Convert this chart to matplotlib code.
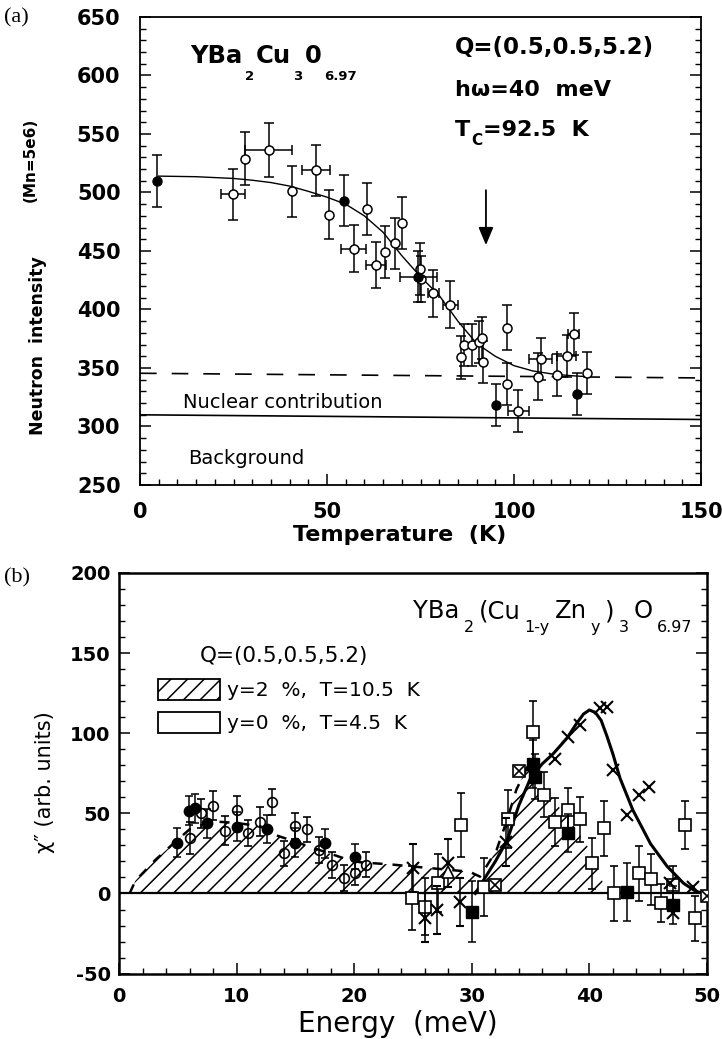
import numpy as np
import matplotlib
matplotlib.use('Agg')
import matplotlib.pyplot as plt
from matplotlib.patches import Patch
from matplotlib.ticker import MultipleLocator

plt.rcParams['font.family'] = ['DejaVu Sans']
plt.rcParams['hatch.linewidth'] = 1.1
nan = np.nan

# ---------------- panel (a): neutron intensity vs temperature
a_open_T = [24.8, 28.2, 34.4, 40.6, 47.1, 50.5, 57.1, 60.6, 63.0, 65.5, 68.2, 70.0,
            74.9, 75.0, 78.4, 83.0, 85.7, 86.7, 88.9, 90.6, 91.5, 91.8, 98.1, 98.2,
            101.2, 106.3, 107.1, 111.4, 114.1, 116.0, 119.4]
a_open_I = [498.5, 529, 536, 501, 519, 481, 452, 486, 438, 449, 456.6, 474,
            434.6, 426, 414, 404, 359, 370, 370, 372.5, 376, 355.4, 384.5, 336,
            313.5, 342.6, 357.7, 344, 360, 378.8, 345.5]
a_open_dT = [3.2, nan, 6.3, nan, 3.8, nan, 3.4, nan, 2.7, nan, nan, nan,
             nan, nan, 1.5, 2.0, nan, nan, nan, nan, nan, nan, nan, nan,
             2.9, nan, 3.1, nan, 2.5, 1.5, nan]
a_open_dI = [22, 23, 23, 22, 22, 21, 20, 22, 20, 22, 22, 22,
             22, 20, 20, 20, 18, 18, 18, 18, 18, 18, 19, 18,
             18, 20, 18, 18, 18, 18, 18]

a_full_T = [4.6, 54.6, 74.4, 95.1, 116.9]
a_full_I = [510, 493, 428, 318, 328]
a_full_dT = [nan, nan, 4.9, nan, nan]
a_full_dI = [22, 22, 22, 18, 18]

fit_T = [5, 15, 25, 30, 35, 40, 45, 50, 55, 60, 65, 70, 75, 80, 85, 90, 95, 100, 105, 110, 115, 120]
fit_I = [514, 513.5, 512, 510.5, 508.5, 505.5, 501, 496, 490, 480, 466, 446, 428, 412, 390, 371,
         360, 352, 347.5, 345, 343.5, 342.5]

nuclear_T = [0, 150]
nuclear_I = [345.5, 341.5]
backgr_T = [0, 150]
backgr_I = [310, 306]

Tc = 92.5

# ---------------- panel (b): chi'' vs energy
b_fc_E = [4.96, 5.95, 6.46, 7.46, 10.06, 12.56, 15.0, 17.5, 20.07]
b_fc_X = [31.7, 51.7, 53.2, 43.8, 41.7, 40.2, 31.7, 31.3, 23]
b_fc_dX = [9, 9, 9, 9, 9, 9, 9, 9, 8]

b_oc_E = [6.04, 6.97, 8.0, 9.0, 10.06, 11.0, 12.0, 13.04, 14.05, 15.0, 16.0, 17.0, 18.1, 19.1, 20.07, 21.0]
b_oc_X = [34.4, 50, 54.8, 39.2, 52, 37.6, 44.8, 56.9, 25, 42, 40, 27, 17.8, 9.5, 13, 18]
b_oc_dX = [10, 9, 9, 9, 9, 8, 9, 8, 8, 8, 8, 8, 8, 8, 8, 8]

b_fs_E = [30.0, 35.2, 35.4, 38.2, 43.2, 47.1]
b_fs_X = [-11.3, 81, 73, 37.6, 1.1, -7.2]
b_fs_dX = [19, 15, 14, 12, 18, 12]

b_os_E = [24.9, 26.0, 27.1, 29.1, 31.0, 33.1, 35.2, 36.1, 37.1, 38.2, 39.2, 40.2, 41.2,
          42.1, 44.2, 45.2, 46.1, 47.1, 48.1, 49.0]
b_os_X = [-3, -8.2, 6.4, 42.7, 4.2, 46.5, 101, 61.5, 44.8, 52, 46.3, 18.8, 40.7,
          0, 12.6, 8.8, -6.1, 5.3, 42.7, -15.5]
b_os_dX = [20, 18, 18, 20, 18, 18, 19, 14, 15, 14, 14, 16, 17,
           17, 17, 16, 12, 12, 15, 14]

b_x_E = [25.0, 26.0, 27.0, 28.0, 29.0, 32.9, 37.1, 38.2, 39.2, 40.9, 41.5, 42.0, 43.2,
         44.2, 45.1, 46.85, 47.1, 48.8]
b_x_X = [15.7, -15, -10.3, 18.8, -5.1, 32.3, 84, 97.8, 105, 115.6, 116.6, 77, 49,
         61.5, 66.6, 6.4, -12.4, 4.2]
b_x_dX = [15, 15, 15, 15, 15, 15, nan, nan, nan, nan, nan, nan, nan,
          nan, nan, nan, nan, nan]

b_xs_E = [32.0, 34.0, 49.96]
b_xs_X = [5.3, 76.6, -1.4]

b_tri_E = [28.0]
b_tri_X = [13.6]

hatch_E = [0.9, 1.4, 3.1, 4.9, 6.0, 8.0, 10.0, 12.0, 13.5, 16.7, 19.5, 20.5, 23.3, 26.2,
           29.8, 30.7, 32.1, 33.0, 33.8, 35.0, 36.1, 37.2, 38.9, 40.05, 40.6, 41.3, 41.4]
hatch_X = [0, 8, 21, 33, 40, 45, 44, 42, 36, 28, 21, 19.5, 18, 16,
           13.6, 10.5, 27, 46, 65, 83, 67, 56, 40, 27, 17, 4, 0]

curve_E = [30.3, 31.1, 32.0, 33.0, 34.0, 35.0, 36.0, 36.9, 38.1, 38.9, 39.5, 40.0, 40.5,
           41.0, 41.5, 42.0, 42.6, 43.7, 45.2, 46.6, 48.0, 49.1, 50.0]
curve_X = [0, 9.5, 20, 33, 55, 72, 81, 87, 97, 106, 112, 114.5, 113,
           108, 98, 87, 72, 52, 31, 17, 6.4, 1.1, 0]

W, H = 722, 1039
fig = plt.figure(figsize=(W / 100, H / 100), dpi=100)


def ftext(x, y, s, **kw):
    # place text by pixel position of the page
    return fig.text(x / W, 1 - y / H, s, **kw)


def formula(ax, x, y, parts, size, sub, drop, weight, gap=0.6):
    r = fig.canvas.get_renderer()
    dx = 0.0
    for s, low in parts:
        t = ax.annotate(s, (x, y), xytext=(dx, -drop if low else 0), textcoords='offset points',
                        fontsize=sub if low else size, fontweight=weight, va='baseline', ha='left')
        dx += t.get_window_extent(r).width * 72 / fig.dpi + gap


def style_axes(ax, lw):
    for sp in ax.spines.values():
        sp.set_linewidth(lw)
    ax.tick_params(which='both', direction='in', left=True, right=True, top=False, bottom=True)
    ax.tick_params(which='major', length=8, width=1.1)
    ax.tick_params(which='minor', length=4.5, width=1.0)


# ================= panel (a)
ax1 = fig.add_axes([140 / W, 1 - 485 / H, 561 / W, 468 / H])
ax1.set_xlim(0, 150)
ax1.set_ylim(250, 650)
style_axes(ax1, 1.3)
ax1.xaxis.set_minor_locator(MultipleLocator(5))
ax1.yaxis.set_minor_locator(MultipleLocator(10))
ax1.set_xticks([0, 50, 100, 150])
ax1.set_xticklabels(['0', '50', '100', '150'], fontsize=15, fontweight='bold')
ax1.set_yticks(range(250, 651, 50))
ax1.set_yticklabels([str(v) for v in range(250, 651, 50)], fontsize=15, fontweight='bold')
ax1.tick_params(axis='x', pad=12)
ax1.tick_params(axis='y', pad=14)

ax1.plot(nuclear_T, nuclear_I, color='black', lw=1.2, dashes=(10, 9))
ax1.plot(backgr_T, backgr_I, color='black', lw=1.2)
ax1.plot(fit_T, fit_I, color='black', lw=1.0)

ax1.errorbar(a_open_T, a_open_I, yerr=a_open_dI, xerr=a_open_dT, fmt='o', ms=6.5, mfc='white',
             mec='black', mew=1.1, ecolor='black', elinewidth=1.1, capsize=3.5, capthick=1.1, zorder=3)
ax1.errorbar(a_full_T, a_full_I, yerr=a_full_dI, xerr=a_full_dT, fmt='o', ms=6.5, mfc='black',
             mec='black', ecolor='black', elinewidth=1.1, capsize=3.5, capthick=1.1, zorder=4)

ax1.annotate('', xy=(Tc, 455), xytext=(Tc, 502),
             arrowprops=dict(arrowstyle='-|>,head_length=0.6,head_width=0.25', lw=1.3,
                             color='black', mutation_scale=18, shrinkA=0, shrinkB=0))

formula(ax1, 13.4, 610.4, [('YBa', 0), ('2', 1), ('Cu', 0), ('3', 1), ('0', 0), ('6.97', 1)],
        17.5, 9.5, 12, 'bold', gap=1.6)
ax1.text(84.2, 618.4, 'Q=(0.5,0.5,5.2)', fontsize=16.5, fontweight='bold')
ax1.text(84.2, 582.5, 'hω=40  meV', fontsize=16, fontweight='bold')
formula(ax1, 84.2, 548, [('T', 0), ('C', 1), ('=92.5  K', 0)], 16, 11, 6, 'bold')
ax1.text(11.5, 316, 'Nuclear contribution', fontsize=14)
ax1.text(12.9, 268, 'Background', fontsize=14)

ftext(400, 535, 'Temperature  (K)', fontsize=16, fontweight='bold', ha='center', va='center')
ftext(38, 346, 'Neutron  intensity', fontsize=12.5, fontweight='bold', rotation=90,
      ha='center', va='center')
ftext(30, 160, '(Mn=5e6)', fontsize=11, fontweight='bold', rotation=90, ha='center', va='center')
ftext(4, 18, '(a)', fontsize=16, family=['Liberation Serif', 'DejaVu Serif'], va='center')

# ================= panel (b)
ax2 = fig.add_axes([119 / W, 1 - 973.6 / H, 588 / W, 400.6 / H])
ax2.set_xlim(0, 50)
ax2.set_ylim(-50, 200)
style_axes(ax2, 1.8)
ax2.xaxis.set_minor_locator(MultipleLocator(2))
ax2.yaxis.set_minor_locator(MultipleLocator(10))
ax2.set_xticks(range(0, 51, 10))
ax2.set_xticklabels([str(v) for v in range(0, 51, 10)], fontsize=14, fontweight='bold')
ax2.set_yticks(range(-50, 201, 50))
ax2.set_yticklabels([str(v) for v in range(-50, 201, 50)], fontsize=14, fontweight='bold')
ax2.tick_params(axis='x', pad=10)
ax2.tick_params(axis='y', pad=6)

ax2.axhline(0, color='black', lw=1.6, zorder=2)
ax2.fill_between(hatch_E, 0, hatch_X, facecolor='none', edgecolor='black', hatch='//',
                 linewidth=0, zorder=1)
k = hatch_E.index(35.0) + 1
ax2.plot(hatch_E[:k], hatch_X[:k], color='black', lw=1.8, dashes=(4, 4), zorder=2)
ax2.plot(curve_E, curve_X, color='black', lw=2.2, zorder=2)

eb = dict(ecolor='black', elinewidth=1.1, capsize=3, capthick=1.1)
ax2.errorbar(b_oc_E, b_oc_X, yerr=b_oc_dX, fmt='o', ms=7, mfc='none', mec='black', mew=1.2,
             zorder=3, **eb)
ax2.errorbar(b_fc_E, b_fc_X, yerr=b_fc_dX, fmt='o', ms=7.5, mfc='black', mec='black', zorder=4, **eb)
ax2.errorbar(b_os_E, b_os_X, yerr=b_os_dX, fmt='s', ms=8, mfc='white', mec='black', mew=1.2,
             zorder=3, **eb)
ax2.errorbar(b_fs_E, b_fs_X, yerr=b_fs_dX, fmt='s', ms=8, mfc='black', mec='black', zorder=4, **eb)
ax2.errorbar(b_x_E, b_x_X, yerr=b_x_dX, fmt='x', ms=9, mec='black', mew=1.5, zorder=4, **eb)
ax2.plot(b_xs_E, b_xs_X, 's', ms=8, mfc='white', mec='black', mew=1.2, zorder=4)
ax2.plot(b_xs_E, b_xs_X, 'x', ms=7, mec='black', mew=1.2, zorder=5)
ax2.plot(b_tri_E, b_tri_X, '^', ms=8, mfc='white', mec='black', mew=1.2, zorder=4)

formula(ax2, 25.0, 171.7,
        [('YBa', 0), ('2', 1), ('(Cu', 0), ('1-y', 1), ('Zn', 0), ('y', 1), (')', 0),
         ('3', 1), ('O', 0), ('6.97', 1)], 17.5, 11.5, 9.5, 'normal', gap=3.2)
ax2.text(6.9, 144.5, 'Q=(0.5,0.5,5.2)', fontsize=15.5)

handles = [Patch(facecolor='white', edgecolor='black', hatch='//', lw=1.3),
           Patch(facecolor='white', edgecolor='black', lw=1.3)]
ax2.legend(handles, ['y=2  %,  T=10.5  K', 'y=0  %,  T=4.5  K'], loc='upper left',
           bbox_to_anchor=(0.066, 0.735), frameon=False, fontsize=14.5, handlelength=3.1,
           handleheight=1.2, handletextpad=0.35, labelspacing=0.6, borderpad=0, borderaxespad=0)

ftext(45, 782, 'χ\u2033 (arb. units)', fontsize=15, rotation=90, ha='center', va='center')
ftext(398, 1038, 'Energy  (meV)', fontsize=20, ha='center', va='bottom')
ftext(4, 578, '(b)', fontsize=16, family=['Liberation Serif', 'DejaVu Serif'], va='center')

fig.savefig('out.png', dpi=100)
